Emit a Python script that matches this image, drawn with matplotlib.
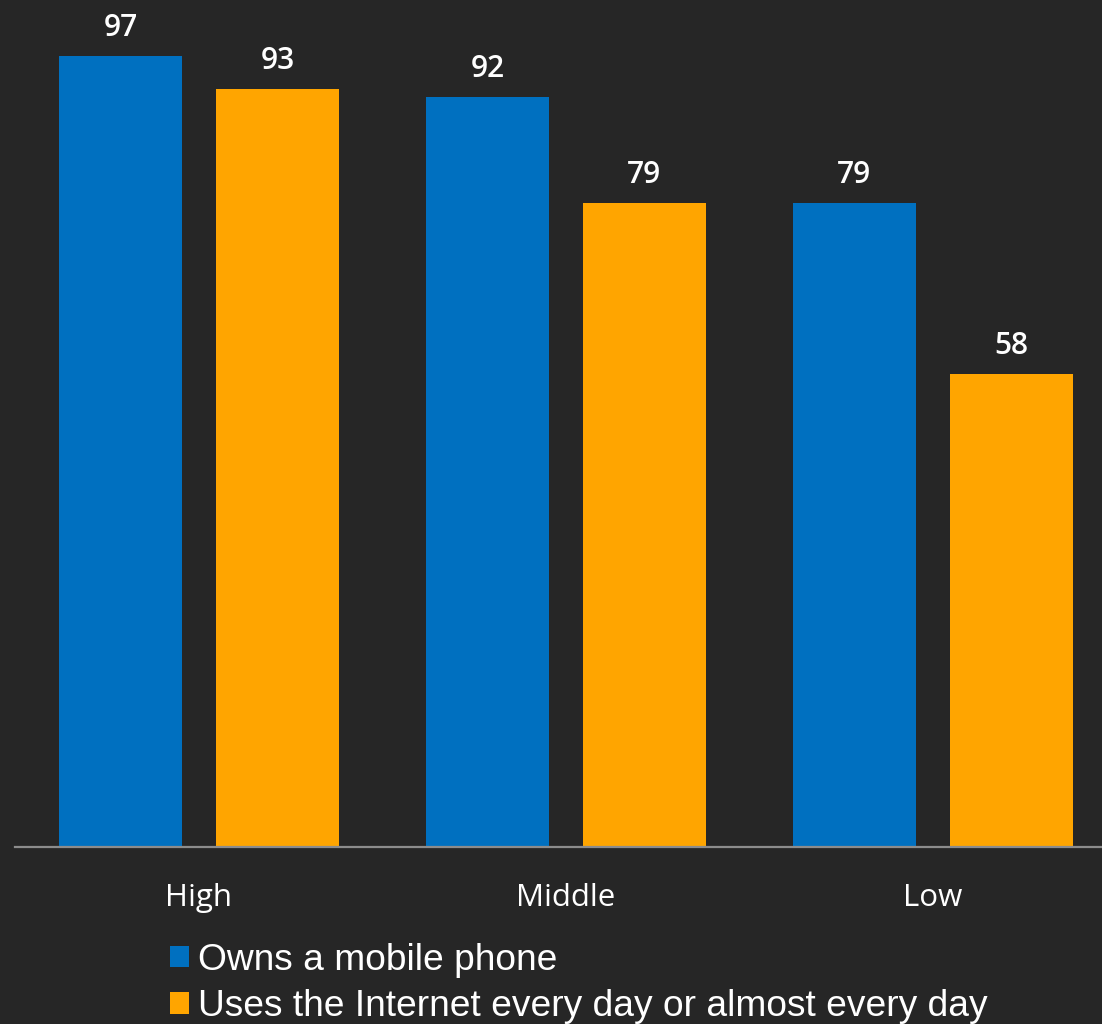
import matplotlib
matplotlib.use("Agg")
import matplotlib.pyplot as plt
import numpy as np

categories = ["High", "Middle", "Low"]
owns_phone = [97, 92, 79]
uses_internet = [93, 79, 58]
series_names = ["Owns a mobile phone", "Uses the Internet every day or almost every day"]

BG = "#262626"
BLUE = "#0070C0"
ORANGE = "#FFA500"

W, H = 1102, 1024
fig = plt.figure(figsize=(W / 100, H / 100), dpi=100, facecolor=BG)
ax = fig.add_axes([15 / W, 1 - 847 / H, 1 - 15 / W, 847 / H])
ax.set_facecolor(BG)

x = np.arange(len(categories))
group = 367.0
centers = 199 - 15 + x * group
off = 78.5
bw = 123

b1 = ax.bar(centers - off, owns_phone, width=bw, color=BLUE, label=series_names[0])
b2 = ax.bar(centers + off, uses_internet, width=bw, color=ORANGE, label=series_names[1])

ax.set_xlim(0, W - 15)
ax.set_ylim(0, 847 / 8.155)

for bars, vals in ((b1, owns_phone), (b2, uses_internet)):
    for r, v in zip(bars, vals):
        ax.annotate(f"{v}", (r.get_x() + r.get_width() / 2, v), xytext=(0, 13),
                    textcoords="offset pixels", ha="center", va="bottom",
                    color="white", fontsize=21.5, fontweight="semibold", family="Open Sans")

for s in ("top", "right", "left"):
    ax.spines[s].set_visible(False)
ax.spines["bottom"].set_color("#8c8c8c")
ax.spines["bottom"].set_linewidth(1.6)
ax.set_yticks([])
ax.set_xticks(centers)
ax.set_xticklabels(categories, color="white", fontsize=22.5, family="Open Sans")
ax.tick_params(axis="x", length=0, pad=26)

leg = fig.legend(handles=[b1, b2], loc="upper left", bbox_to_anchor=(170 / W, 1 - 943 / H),
                 frameon=False, handlelength=0.5, handleheight=0.5,
                 handletextpad=0.25, labelspacing=0.3, borderpad=0, borderaxespad=0,
                 prop={"family": "Liberation Sans", "size": 26.7})
for t in leg.get_texts():
    t.set_color("white")

fig.savefig("out.png", dpi=100, facecolor=BG)
